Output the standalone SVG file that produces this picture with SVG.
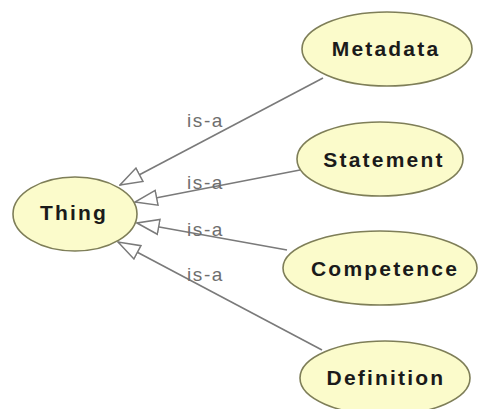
<svg xmlns="http://www.w3.org/2000/svg" width="482" height="409" viewBox="0 0 482 409">
  <style>
    .node ellipse { fill: #fbfbcb; stroke: #7e7e58; stroke-width: 1.6; }
    .node text { font-family: "Liberation Sans", Arial, sans-serif; font-size: 21px; font-weight: bold; fill: #1a1a1a; text-anchor: middle; letter-spacing: 2.2px; }
    .edge line { stroke: #7a7a7a; stroke-width: 1.6; marker-end: url(#isa); }
    .label { font-family: "Liberation Sans", Arial, sans-serif; font-size: 19px; fill: #6e6e6e; letter-spacing: 1.6px; }
  </style>
  <defs>
    <marker id="isa" viewBox="0 0 24 18" refX="23" refY="9" markerWidth="24" markerHeight="18" markerUnits="userSpaceOnUse" orient="auto">
      <path d="M23,9 L1,1.5 L1,16.5 Z" fill="#ffffff" stroke="#7a7a7a" stroke-width="1.5"/>
    </marker>
  </defs>
  <rect width="482" height="409" fill="#ffffff"/>

  <g id="connectors" class="edge">
    <line x1="323" y1="78" x2="120" y2="185"/>
    <line x1="300" y1="170" x2="135" y2="202"/>
    <line x1="287" y1="250" x2="137" y2="223"/>
    <line x1="322" y1="350" x2="118" y2="242"/>
    <text class="label" x="187" y="127">is-a</text>
    <text class="label" x="187" y="189">is-a</text>
    <text class="label" x="187" y="236">is-a</text>
    <text class="label" x="187" y="281">is-a</text>
  </g>

  <g id="thing" class="node">
    <ellipse cx="75" cy="214" rx="62" ry="37"/>
    <text x="74" y="220">Thing</text>
  </g>
  <g id="metadata" class="node">
    <ellipse cx="387" cy="49" rx="85" ry="37"/>
    <text x="386" y="56">Metadata</text>
  </g>
  <g id="statement" class="node">
    <ellipse cx="380" cy="159" rx="83" ry="37"/>
    <text x="384" y="167">Statement</text>
  </g>
  <g id="competence" class="node">
    <ellipse cx="380" cy="268" rx="97" ry="37"/>
    <text x="385" y="276">Competence</text>
  </g>
  <g id="definition" class="node">
    <ellipse cx="385" cy="378" rx="85" ry="37"/>
    <text x="386" y="385">Definition</text>
  </g>
</svg>
